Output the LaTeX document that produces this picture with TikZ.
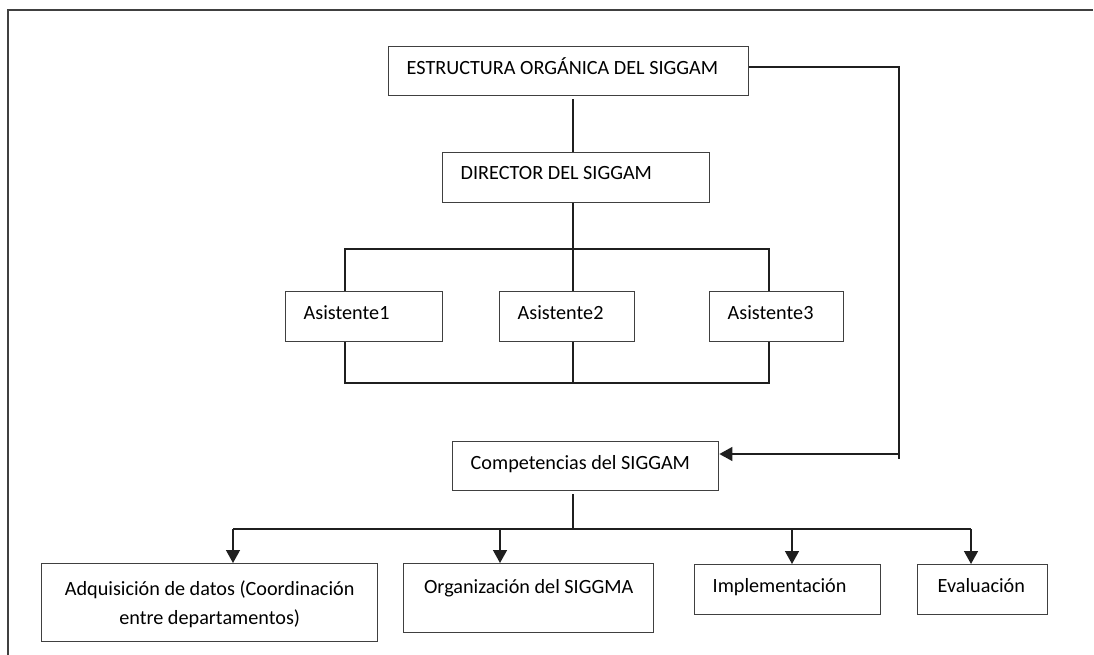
\documentclass[tikz,border=0pt]{standalone}
\usepackage{fontspec}
\setmainfont{Carlito}
\usepackage{tikz}
\usetikzlibrary{arrows.meta}
\usetikzlibrary{calc}

\definecolor{boxgray}{gray}{0.25}
\definecolor{linegray}{gray}{0.12}
\newcommand\orgfont{\fontsize{20.2}{29}\selectfont}

\begin{document}
\begin{tikzpicture}[x=1pt, y=-1pt,
orgbox/.style={draw=boxgray, line width=1.4pt, inner xsep=18pt, inner ysep=0pt,
  anchor=north west, align=flush left, font=\orgfont},
link/.style={linegray, line width=1.4pt},
arrow/.style={link, -{Triangle[width=14pt,length=13pt]}}]

\useasboundingbox (0,0) rectangle (1094,655);

% frame
\draw[boxgray, line width=2pt] (8,655) -- (8,10) -- (1093,10);

% boxes
\node[orgbox, text width=324pt, text height=28pt, text depth=21pt] (est) at (388,46) {ESTRUCTURA ORGÁNICA DEL SIGGAM};
\node[orgbox, text width=231pt, text height=27pt, text depth=23pt] (dir) at (442,152) {DIRECTOR DEL SIGGAM};
\node[orgbox, text width=121pt, text height=28pt, text depth=22pt] (as1) at (285,291) {Asistente1};
\node[orgbox, text width=99pt, text height=28pt, text depth=22pt] (as2) at (499,291) {Asistente2};
\node[orgbox, text width=98pt, text height=28pt, text depth=22pt] (as3) at (709,291) {Asistente3};
\node[orgbox, text width=230pt, text height=28pt, text depth=21pt] (comp) at (452,441) {Competencias del SIGGAM};
\node[orgbox, inner xsep=8pt, align=flush center, text width=320pt, text height=32pt, text depth=46pt] (adq) at (41,563)
  {Adquisición de datos (Coordinación\\entre departamentos)};
\node[orgbox, inner xsep=8pt, align=flush center, text width=234pt, text height=30pt, text depth=39pt] (org) at (403,563) {Organización del SIGGMA};
\node[orgbox, text width=150pt, text height=28pt, text depth=22pt] (imp) at (694,564) {Implementación};
\node[orgbox, inner xsep=20pt, text width=90pt, text height=28pt, text depth=22pt] (eva) at (917,564) {Evaluación};

% helper coordinates
\coordinate (spine) at (573,0);
\coordinate (left) at (345,249);
\coordinate (right) at (769,249);
\coordinate (busB) at (0,383);
\coordinate (sidetop) at (899,67);
\coordinate (sidebot) at (899,459);
\coordinate (sidein) at (899,454);
\coordinate (busC) at (0,529);
\coordinate (d1) at (233,529);
\coordinate (d2) at (500,529);
\coordinate (d3) at (792,529);
\coordinate (d4) at (971,529);

% upper part
\draw[link] ($(spine |- est.south)+(0,3)$) -- (spine |- dir.north);
\draw[link] (spine |- dir.south) -- (spine |- as2.north);
\draw[link] (left |- as1.north) -- (left) -- (right) -- (right |- as3.north);
\draw[link] (left |- as1.south) -- (left |- busB) -- (right |- busB) -- (right |- as3.south);
\draw[link] (spine |- as2.south) -- (spine |- busB);

% side link
\draw[link] (est.east |- sidetop) -- (sidetop) -- (sidebot);
\draw[arrow] (sidein) -- (sidein -| comp.east);

% lower part
\draw[link] ($(spine |- comp.south)+(0,3)$) -- (spine |- busC);
\draw[link] (d1) -- (d4);
\draw[arrow] (d1) -- (d1 |- adq.north);
\draw[arrow] (d2) -- (d2 |- org.north);
\draw[arrow] (d3) -- (d3 |- imp.north);
\draw[arrow] (d4) -- (d4 |- eva.north);

\end{tikzpicture}
\end{document}
